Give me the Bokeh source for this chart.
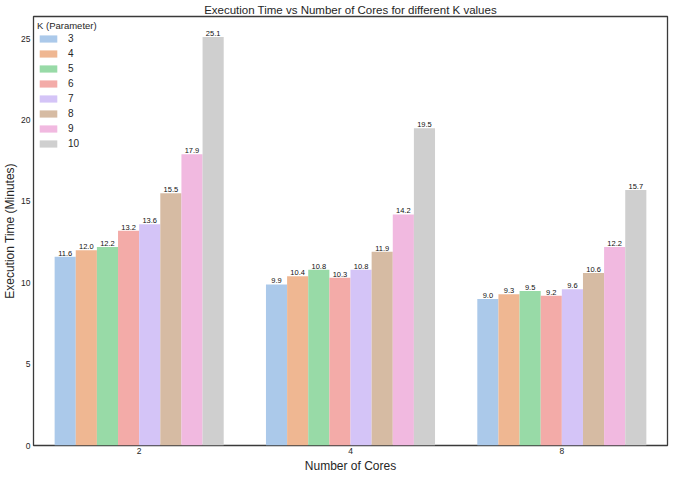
from bokeh.plotting import figure
from bokeh.models import FactorRange, Range1d, ColumnDataSource, LabelSet, Legend, LegendItem, FixedTicker, Title
from bokeh.transform import dodge
from bokeh.core.properties import value
from bokeh.embed import file_html
from bokeh.resources import INLINE

cores = ["2", "4", "8"]
k_values = ["3", "4", "5", "6", "7", "8", "9", "10"]
time_k3 = [11.6, 9.9, 9.0]
time_k4 = [12.0, 10.4, 9.3]
time_k5 = [12.2, 10.8, 9.5]
time_k6 = [13.2, 10.3, 9.2]
time_k7 = [13.6, 10.8, 9.6]
time_k8 = [15.5, 11.9, 10.6]
time_k9 = [17.9, 14.2, 12.2]
time_k10 = [25.1, 19.5, 15.7]
y_ticks = [0, 5, 10, 15, 20, 25]

series = [time_k3, time_k4, time_k5, time_k6, time_k7, time_k8, time_k9, time_k10]
colors = ["#abc9ea", "#efb792", "#98daa7", "#f3aba8", "#d4c4f7", "#d6bba3", "#f1b9e0", "#cfcfcf"]

FONT = "Liberation Sans"
TXT = "#262626"

p = figure(x_range=FactorRange(*cores), y_range=Range1d(0, 26.36),
           width=669, height=472, output_backend="svg", toolbar_location=None,
           min_border_left=0, min_border_right=2, min_border_top=0, min_border_bottom=0)

p.title.text = "Execution Time vs Number of Cores for different K values"
p.title.align = "center"
p.title.text_font = FONT
p.title.text_font_size = "11.5px"
p.title.text_font_style = "normal"
p.title.text_color = TXT
p.title.standoff = 2

n = len(k_values)
bw = 0.8 / n
items = []
for i, (k, vals, col) in enumerate(zip(k_values, series, colors)):
    off = (i - (n - 1) / 2) * bw
    src = ColumnDataSource(dict(x=cores, y=vals, lab=["%.1f" % v for v in vals]))
    r = p.vbar(x=dodge("x", off, range=p.x_range), top="y", width=bw, source=src,
               fill_color=col, line_color=None)
    items.append(LegendItem(label=k, renderers=[r]))
    lbl = LabelSet(x=dodge("x", off, range=p.x_range), y="y", text="lab", source=src,
                   text_align="center", text_baseline="bottom", y_offset=1,
                   text_font=value(FONT), text_font_size=value("7.5px"),
                   text_color=value("#111111"))
    p.add_layout(lbl)

legend = Legend(items=items, location="top_left", title="K (Parameter)",
                title_text_font=FONT, title_text_font_size="9.5px", title_text_color=TXT,
                title_text_font_style="normal", title_standoff=2,
                label_text_font=FONT, label_text_font_size="10px", label_text_color=TXT,
                glyph_width=22, glyph_height=9, label_height=9, spacing=4,
                label_standoff=9, margin=4, padding=8,
                border_line_color=None, background_fill_alpha=0)
p.add_layout(legend)

p.xgrid.visible = False
p.ygrid.visible = False
p.outline_line_color = "#3a3a3a"
p.outline_line_width = 1.3

for ax in (p.xaxis, p.yaxis):
    ax.axis_line_color = None
    ax.major_tick_line_color = None
    ax.minor_tick_line_color = None
    ax.major_label_text_font = FONT
    ax.major_label_text_font_size = "8.5px"
    ax.major_label_text_color = TXT
    ax.axis_label_text_font = FONT
    ax.axis_label_text_font_size = "12px"
    ax.axis_label_text_font_style = "normal"
    ax.axis_label_text_color = TXT
    ax.major_tick_out = 0
    ax.major_tick_in = 0
    ax.major_label_standoff = 3

p.yaxis.axis_label_standoff = 1
p.xaxis.major_label_standoff = 2
p.yaxis.ticker = FixedTicker(ticks=y_ticks)
p.yaxis.axis_label = "Execution Time (Minutes)"
p.x_range.range_padding = 0

xlabel = Title(text="Number of Cores", align="center", text_font=FONT,
               text_font_size="12px", text_font_style="normal", text_color=TXT,
               standoff=0, offset=0)
p.add_layout(xlabel, "below")

open("out.html", "w").write(file_html(p, INLINE))
